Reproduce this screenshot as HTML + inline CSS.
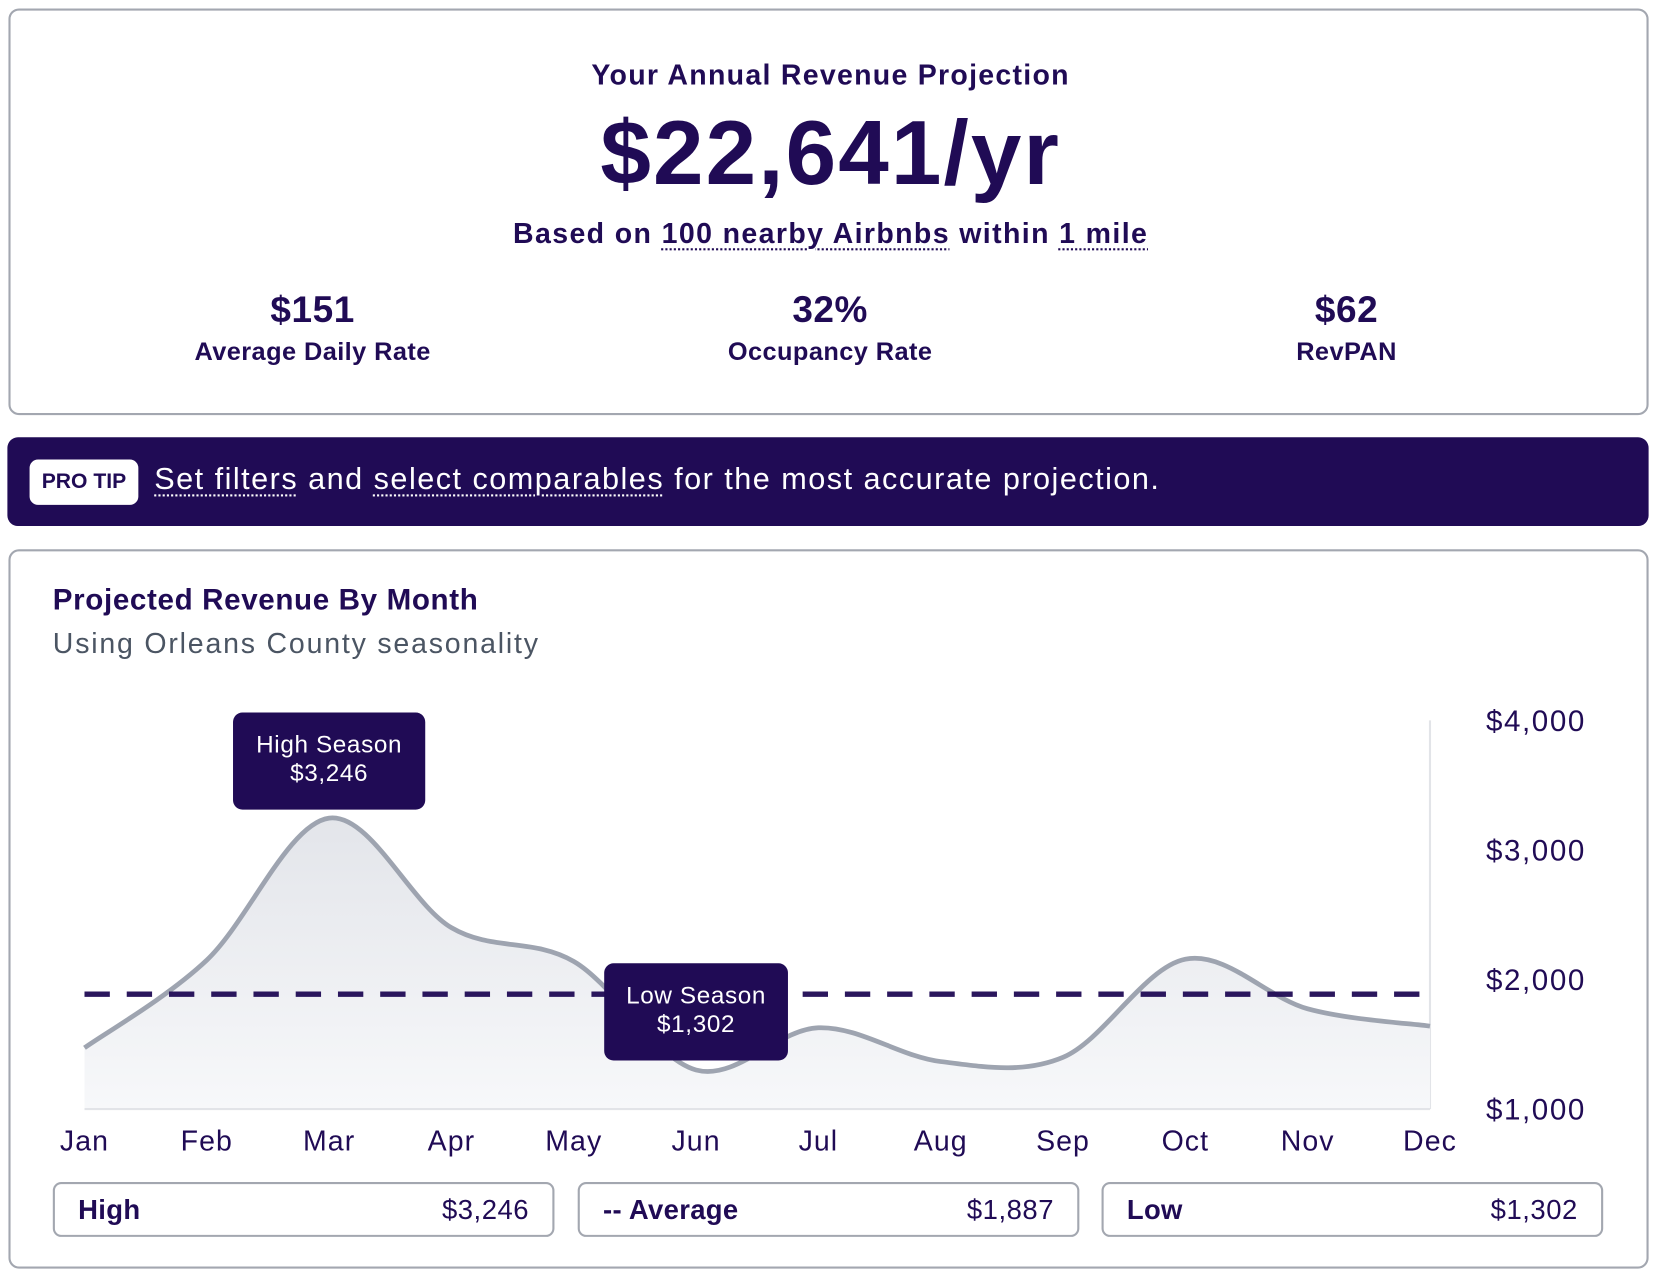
<!DOCTYPE html>
<html><head><meta charset="utf-8"><style>
html,body{margin:0;padding:0;background:#fff;width:1656px;height:1276px;overflow:hidden}
#wrap{position:absolute;left:0;top:0;width:1568px;height:1208px;transform:scale(1.05612,1.0563);transform-origin:0 0;font-family:"Liberation Sans",sans-serif;color:#200b55}
.card{position:absolute;border:2px solid #a3a7b0;border-radius:10px;box-sizing:border-box;background:#fff}
.c{position:absolute;text-align:center;white-space:nowrap}
.dot{text-decoration:underline dotted;text-underline-offset:5px;text-decoration-thickness:2px}
.stat{position:absolute;width:400px;text-align:center}
.stat .v{font-size:35px;font-weight:bold;letter-spacing:0.5px}
.stat .l{font-size:24px;font-weight:bold;margin-top:6px;letter-spacing:0.4px}
.leg{position:absolute;top:1119px;height:52px;width:475px;border:2px solid #a3a7b0;border-radius:8px;box-sizing:border-box;font-size:26px;line-height:48px}
.leg b{position:absolute;left:22px;letter-spacing:0.3px}
.leg span{position:absolute;right:22px;letter-spacing:0.5px}
</style></head><body>
<div id="wrap">
<div class="card" style="left:8px;top:8px;width:1553px;height:385px">
  <div class="c" style="left:0;width:1553px;top:46px;font-size:27px;font-weight:bold;letter-spacing:1.2px">Your Annual Revenue Projection</div>
  <div class="c" style="left:0;width:1553px;top:86px;font-size:86px;font-weight:bold;letter-spacing:2px">$22,641/yr</div>
  <div class="c" style="left:0;width:1553px;top:196px;font-size:27px;font-weight:bold;letter-spacing:1.3px">Based on <span class="dot">100 nearby Airbnbs</span> within <span class="dot">1 mile</span></div>
  <div class="stat" style="left:86px;top:264px"><div class="v">$151</div><div class="l">Average Daily Rate</div></div>
  <div class="stat" style="left:576px;top:264px"><div class="v">32%</div><div class="l">Occupancy Rate</div></div>
  <div class="stat" style="left:1065px;top:264px"><div class="v">$62</div><div class="l">RevPAN</div></div>
</div>
<div style="position:absolute;left:7px;top:414px;width:1554px;height:84px;background:#200b55;border-radius:10px">
  <div style="position:absolute;left:21px;top:21px;width:103px;height:43px;background:#fff;border-radius:8px;font-size:20px;font-weight:bold;line-height:43px;text-align:center;color:#200b55">PRO TIP</div>
  <div style="position:absolute;left:139px;top:24px;font-size:29px;color:#fff;white-space:nowrap;letter-spacing:1.4px"><span class="dot">Set filters</span> and <span class="dot">select comparables</span> for the most accurate projection.</div>
</div>
<div class="card" style="left:8px;top:520px;width:1553px;height:681px"></div>
<div style="position:absolute;left:50px;top:552px;font-size:28px;font-weight:bold;letter-spacing:0.6px">Projected Revenue By Month</div>
<div style="position:absolute;left:50px;top:594px;font-size:27px;color:#4b5563;letter-spacing:1.7px">Using Orleans County seasonality</div>
<svg id="chart" style="position:absolute;left:0;top:0" width="1568" height="1208">
<defs><linearGradient id="g" x1="0" y1="0" x2="0" y2="1"><stop offset="0" stop-color="#e3e5ea"/><stop offset="1" stop-color="#f7f8fa"/></linearGradient></defs>
</svg>
<div class="leg" style="left:50px"><b>High</b><span>$3,246</span></div>
<div class="leg" style="left:547px"><b>-- Average</b><span>$1,887</span></div>
<div class="leg" style="left:1043px"><b>Low</b><span>$1,302</span></div>
</div>
<script>
const months=["Jan","Feb","Mar","Apr","May","Jun","Jul","Aug","Sep","Oct","Nov","Dec"];
const revenue=[1473,2150,3246,2400,2140,1302,1628,1367,1400,2157,1774,1640];
const yTicks=[1000,2000,3000,4000];
const yTickLabels=["$1,000","$2,000","$3,000","$4,000"];
const average=1887;
const highValue=3246, lowValue=1302;
const svg=document.getElementById('chart');const NS='http://www.w3.org/2000/svg';
const X0=80,X1=1354,Y0=1050,Y1=682,VMIN=1000,VMAX=4000;
const xs=i=>X0+(X1-X0)*i/(months.length-1);
const ys=v=>Y0-(v-VMIN)/(VMAX-VMIN)*(Y0-Y1);
function mk(t,a){const e=document.createElementNS(NS,t);for(const k in a)e.setAttribute(k,a[k]);svg.appendChild(e);return e;}
let g=mk('line',{x1:X1,y1:Y1,x2:X1,y2:Y0,stroke:'#e2e4e8','stroke-width':2});

const pts=revenue.map((v,i)=>[xs(i),ys(v)]);
let d='M'+pts[0][0]+','+pts[0][1];
for(let i=0;i<pts.length-1;i++){const p0=pts[Math.max(0,i-1)],p1=pts[i],p2=pts[i+1],p3=pts[Math.min(pts.length-1,i+2)];
const c1=[p1[0]+(p2[0]-p0[0])/6,p1[1]+(p2[1]-p0[1])/6],c2=[p2[0]-(p3[0]-p1[0])/6,p2[1]-(p3[1]-p1[1])/6];
d+=' C'+c1+' '+c2+' '+p2;}
let area=mk('path',{d:d+' L'+X1+','+Y0+' L'+X0+','+Y0+' Z',fill:'url(#g)'});

let base=mk('line',{x1:X0,y1:Y0,x2:X1,y2:Y0,stroke:'#e2e4e8','stroke-width':2});

let line=mk('path',{d:d,fill:'none',stroke:'#9ea4b0','stroke-width':4.5});

let avg=mk('line',{x1:X0,y1:ys(average),x2:X1,y2:ys(average),stroke:'#200b55','stroke-width':5,'stroke-dasharray':'24 16','opacity':0.95});

months.forEach((m,i)=>{const t=mk('text',{x:xs(i),y:1089,'text-anchor':'middle','font-size':27,fill:'#200b55','letter-spacing':1});t.textContent=m;
});
yTicks.forEach((v,i)=>{const t=mk('text',{x:1407,y:ys(v)+10,'font-size':28,fill:'#200b55','letter-spacing':1.5});t.textContent=yTickLabels[i];
});
function tip(idx,val,label,name){const cx=xs(idx),w=label==='High Season'?182:174,h=92;
const top=label==='High Season'?ys(val)-100:ys(val)-101;
const r=mk('rect',{x:cx-w/2,y:top,width:w,height:h,rx:9,fill:'#200b55'});

const t1=mk('text',{x:cx,y:top+38,'text-anchor':'middle','font-size':23,fill:'#fff','letter-spacing':0.6});t1.textContent=label;

const t2=mk('text',{x:cx,y:top+65,'text-anchor':'middle','font-size':23,fill:'#fff','letter-spacing':0.6});t2.textContent='$'+val.toLocaleString('en-US');
}
tip(revenue.indexOf(highValue),highValue,'High Season','high-season-tooltip');
tip(revenue.indexOf(lowValue),lowValue,'Low Season','low-season-tooltip');
</script>
</body></html>
